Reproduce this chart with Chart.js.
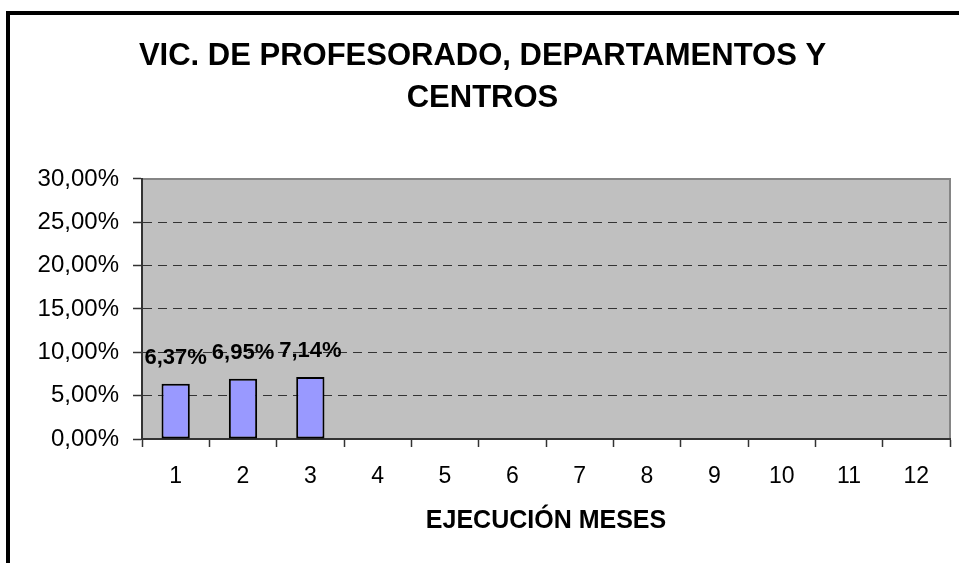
<!DOCTYPE html>
<html>
<head>
<meta charset="utf-8">
<script src="https://cdn.jsdelivr.net/npm/chart.js@4.4.0/dist/chart.umd.min.js"></script>
<style>
  html, body { margin: 0; padding: 0; background: #fff; overflow: hidden; }
  #wrap { position: relative; width: 959px; height: 563px; }
  #frame { position: absolute; left: 6px; top: 11px; width: 1000px; height: 600px;
           border-left: 4px solid #000; border-top: 4px solid #000; pointer-events: none; }
  canvas { position: absolute; left: 0; top: 0; }
</style>
</head>
<body>
<div id="wrap">
  <canvas id="chart" width="959" height="563"></canvas>
  <div id="frame"></div>
</div>
<script>
// data
const months = ['1', '2', '3', '4', '5', '6', '7', '8', '9', '10', '11', '12'];
const ejecucion = [6.37, 6.95, 7.14, null, null, null, null, null, null, null, null, null];
const yTicks = [0, 5, 10, 15, 20, 25, 30];

const FONT = "'Liberation Sans', Arial, sans-serif";

function pct(v) {
  return v.toFixed(2).replace('.', ',') + '%';
}

// gray plot area with a gray top/right edge
const plotBackground = {
  id: 'plotBackground',
  beforeDraw(chart) {
    const { ctx, chartArea: a } = chart;
    ctx.save();
    ctx.fillStyle = '#c0c0c0';
    ctx.fillRect(a.left, a.top, a.right - a.left, a.bottom - a.top);
    ctx.strokeStyle = '#858585';
    ctx.lineWidth = 2;
    ctx.beginPath();
    ctx.moveTo(a.left, a.top);
    ctx.lineTo(a.right, a.top);
    ctx.lineTo(a.right, a.bottom);
    ctx.stroke();
    ctx.restore();
  }
};

// value labels above the bars
const barLabels = {
  id: 'barLabels',
  afterDatasetsDraw(chart) {
    const { ctx } = chart;
    const meta = chart.getDatasetMeta(0);
    ctx.save();
    ctx.font = 'bold 22px ' + FONT;
    ctx.fillStyle = '#000';
    ctx.textAlign = 'center';
    ctx.textBaseline = 'middle';
    meta.data.forEach((bar, i) => {
      const v = ejecucion[i];
      if (v === null) return;
      ctx.fillText(pct(v), bar.x, bar.y - 26);
    });
    ctx.restore();
  }
};

new Chart(document.getElementById('chart'), {
  type: 'bar',
  data: {
    labels: months,
    datasets: [{
      data: ejecucion,
      backgroundColor: '#9999ff',
      borderColor: '#000',
      borderWidth: 2,
      borderSkipped: false,
      barPercentage: 0.42,
      categoryPercentage: 1
    }]
  },
  options: {
    responsive: false,
    animation: false,
    devicePixelRatio: 1,
    layout: { padding: { left: 15, right: 9, top: 0, bottom: 0 } },
    plugins: {
      legend: { display: false },
      tooltip: { enabled: false },
      title: {
        display: true,
        text: ['VIC. DE PROFESORADO, DEPARTAMENTOS Y', 'CENTROS'],
        color: '#000',
        font: { family: FONT, size: 31, weight: 'bold', lineHeight: 1.37 },
        padding: { top: 35, bottom: 59 }
      }
    },
    scales: {
      x: {
        grid: {
          drawOnChartArea: false,
          offset: true,
          tickLength: 8,
          tickColor: '#333',
          tickWidth: 1.5
        },
        border: { color: '#333', width: 2 },
        ticks: {
          color: '#000',
          padding: 16,
          maxRotation: 0,
          font: { family: FONT, size: 23 }
        },
        title: {
          display: true,
          text: 'EJECUCIÓN MESES',
          color: '#000',
          font: { family: FONT, size: 25, weight: 'bold' },
          padding: { top: 0, bottom: 27 }
        },
        afterFit(scale) { scale.height = 124; }
      },
      y: {
        min: 0,
        max: 30,
        afterBuildTicks(scale) {
          scale.ticks = yTicks.map(v => ({ value: v }));
        },
        grid: {
          color: c => (c.tick && (c.tick.value === 0 || c.tick.value === 30)) ? 'rgba(0,0,0,0)' : '#333',
          lineWidth: 1,
          tickLength: 9,
          tickColor: '#333',
          tickWidth: 1.5
        },
        border: { color: '#333', width: 2, dash: [9, 6] },
        ticks: {
          color: '#000',
          padding: 14,
          font: { family: FONT, size: 24 },
          callback: v => pct(v)
        },
        afterFit(scale) { scale.width = 127; }
      }
    }
  },
  plugins: [plotBackground, barLabels]
});
</script>
</body>
</html>
